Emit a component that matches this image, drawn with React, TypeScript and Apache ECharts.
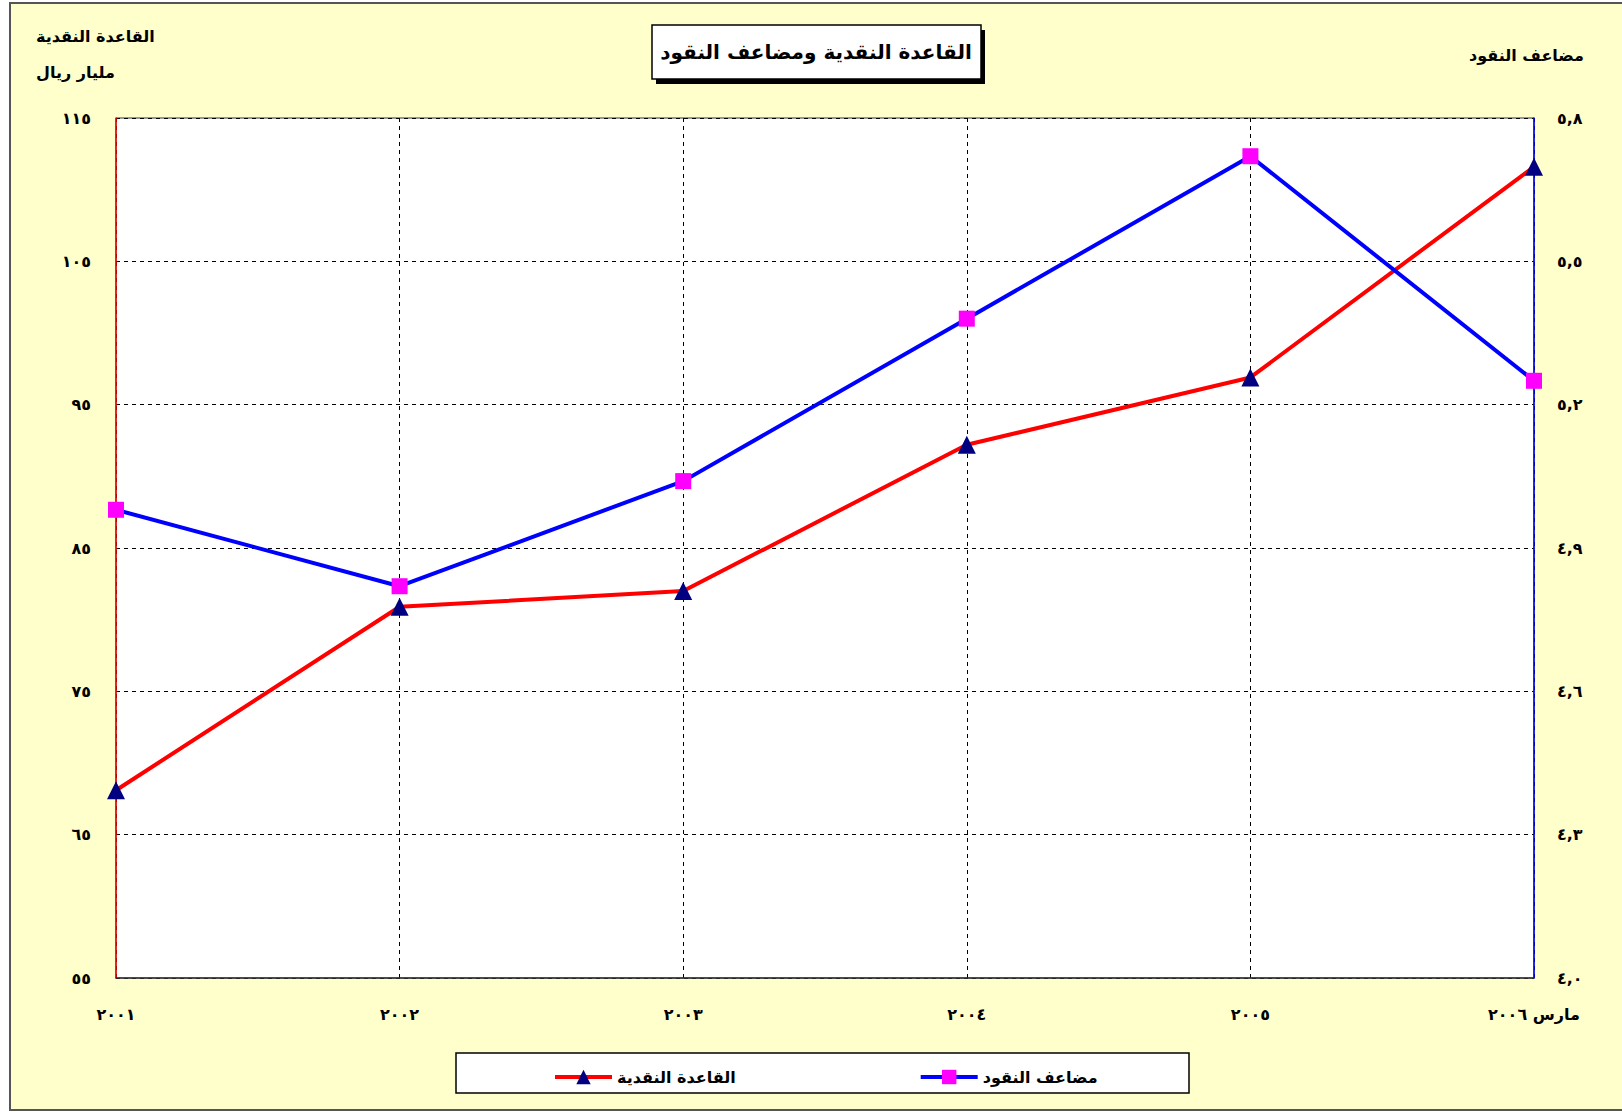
import React, { useEffect, useRef } from 'react';
import * as echarts from 'echarts';

const categories = ['٢٠٠١', '٢٠٠٢', '٢٠٠٣', '٢٠٠٤', '٢٠٠٥', 'مارس ٢٠٠٦'];
const monetaryBase = [68.1, 80.9, 82.0, 92.2, 96.9, 111.6];
const moneyMultiplier = [4.98, 4.82, 5.04, 5.38, 5.72, 5.25];
const leftTickValues = [55, 65, 75, 85, 95, 105, 115];
const leftTickLabels = ['٥٥', '٦٥', '٧٥', '٨٥', '٩٥', '١٠٥', '١١٥'];
const rightTickValues = [4.0, 4.3, 4.6, 4.9, 5.2, 5.5, 5.8];
const rightTickLabels = ['٤,٠', '٤,٣', '٤,٦', '٤,٩', '٥,٢', '٥,٥', '٥,٨'];

const seriesNames = ['القاعدة النقدية', 'مضاعف النقود'];
const titleText = 'القاعدة النقدية ومضاعف النقود';
const leftAxisName = ['القاعدة النقدية', 'مليار ريال'];
const rightAxisName = 'مضاعف النقود';

const FONT = '"DejaVu Sans", sans-serif';

function lookup(values: number[], labels: string[], v: number) {
  const i = values.findIndex((t) => Math.abs(t - v) < 1e-6);
  return i >= 0 ? labels[i] : '';
}

export default function App() {
  const ref = useRef<HTMLDivElement>(null);
  useEffect(() => {
    if (!ref.current) return;
    const chart = echarts.init(ref.current, null, { renderer: 'svg' });
    const labelStyle = { fontFamily: FONT, fontWeight: 'bold' as const, fontSize: 16, color: '#000' };
    chart.setOption({
      animation: false,
      backgroundColor: '#FFFFFF',
      grid: {
        left: 116,
        right: 88,
        top: 118,
        bottom: 134,
        show: true,
        backgroundColor: '#FFFFFF',
        borderColor: '#333',
        borderWidth: 1,
        outerBoundsMode: 'none',
      },
      legend: {
        left: 548,
        top: 1064,
        itemGap: 183,
        itemWidth: 57,
        itemHeight: 18,
        data: seriesNames,
        lineStyle: { width: 4 },
        textStyle: { fontFamily: FONT, fontWeight: 'bold', fontSize: 16, color: '#000' },
      },
      xAxis: {
        type: 'category',
        data: categories,
        boundaryGap: false,
        axisLine: { show: true, lineStyle: { color: '#333', width: 1.5 } },
        axisTick: { show: false },
        axisLabel: { ...labelStyle, margin: 28, interval: 0 },
        splitLine: { show: true, lineStyle: { color: '#000', type: [4, 4], width: 1 } },
      },
      yAxis: [
        {
          type: 'value',
          min: 55,
          max: 115,
          position: 'left',
          axisLine: { show: true, lineStyle: { color: '#FF0000', width: 1.5 } },
          axisTick: { show: false, customValues: leftTickValues },
          axisLabel: {
            ...labelStyle,
            margin: 25,
            customValues: leftTickValues,
            formatter: (v: number) => lookup(leftTickValues, leftTickLabels, v),
          },
          splitLine: { show: true, lineStyle: { color: '#000', type: [4, 4], width: 1 } },
        },
        {
          type: 'value',
          min: 4.0,
          max: 5.8,
          position: 'right',
          axisLine: { show: true, lineStyle: { color: '#0000FF', width: 1.5 } },
          axisTick: { show: false, customValues: rightTickValues },
          axisLabel: {
            ...labelStyle,
            margin: 23,
            customValues: rightTickValues,
            formatter: (v: number) => lookup(rightTickValues, rightTickLabels, v),
          },
          splitLine: { show: false },
        },
      ],
      series: [
        {
          name: seriesNames[0],
          type: 'line',
          yAxisIndex: 0,
          data: monetaryBase,
          symbol: 'triangle',
          symbolSize: 18,
          lineStyle: { color: '#FF0000', width: 4 },
          itemStyle: { color: '#000080' },
          z: 3,
        },
        {
          name: seriesNames[1],
          type: 'line',
          yAxisIndex: 1,
          data: moneyMultiplier,
          symbol: 'rect',
          symbolSize: 16,
          lineStyle: { color: '#0000FF', width: 4 },
          itemStyle: { color: '#FF00FF' },
          z: 4,
        },
      ],
      graphic: [
        {
          type: 'rect',
          z: -100,
          silent: true,
          shape: { x: 10, y: 3, width: 1630, height: 1107 },
          style: { fill: '#FFFFCC', stroke: '#555', lineWidth: 2 },
        },
        {
          type: 'rect',
          silent: true,
          shape: { x: 656, y: 30, width: 329, height: 54 },
          style: { fill: '#000' },
        },
        {
          type: 'rect',
          silent: true,
          shape: { x: 652, y: 25, width: 329, height: 54 },
          style: { fill: '#FFF', stroke: '#000', lineWidth: 1.5 },
        },
        {
          type: 'text',
          silent: true,
          x: 816,
          y: 52,
          style: {
            text: titleText,
            align: 'center',
            verticalAlign: 'middle',
            fontFamily: FONT,
            fontWeight: 'bold',
            fontSize: 20,
            fill: '#000',
          },
        },
        {
          type: 'text',
          silent: true,
          x: 36,
          y: 36,
          style: {
            text: leftAxisName[0],
            align: 'left',
            verticalAlign: 'middle',
            fontFamily: FONT,
            fontWeight: 'bold',
            fontSize: 16,
            fill: '#000',
          },
        },
        {
          type: 'text',
          silent: true,
          x: 36,
          y: 72,
          style: {
            text: leftAxisName[1],
            align: 'left',
            verticalAlign: 'middle',
            fontFamily: FONT,
            fontWeight: 'bold',
            fontSize: 16,
            fill: '#000',
          },
        },
        {
          type: 'text',
          silent: true,
          x: 1584,
          y: 55,
          style: {
            text: rightAxisName,
            align: 'right',
            verticalAlign: 'middle',
            fontFamily: FONT,
            fontWeight: 'bold',
            fontSize: 16,
            fill: '#000',
          },
        },
        {
          type: 'rect',
          silent: true,
          z: -50,
          shape: { x: 456, y: 1053, width: 733, height: 40 },
          style: { fill: '#FFF', stroke: '#000', lineWidth: 1.5 },
        },
      ],
    });
    return () => chart.dispose();
  }, []);
  return (
    <div
      ref={ref}
      style={{ position: 'absolute', left: 0, top: 0, width: 1622, height: 1112 }}
    />
  );
}
